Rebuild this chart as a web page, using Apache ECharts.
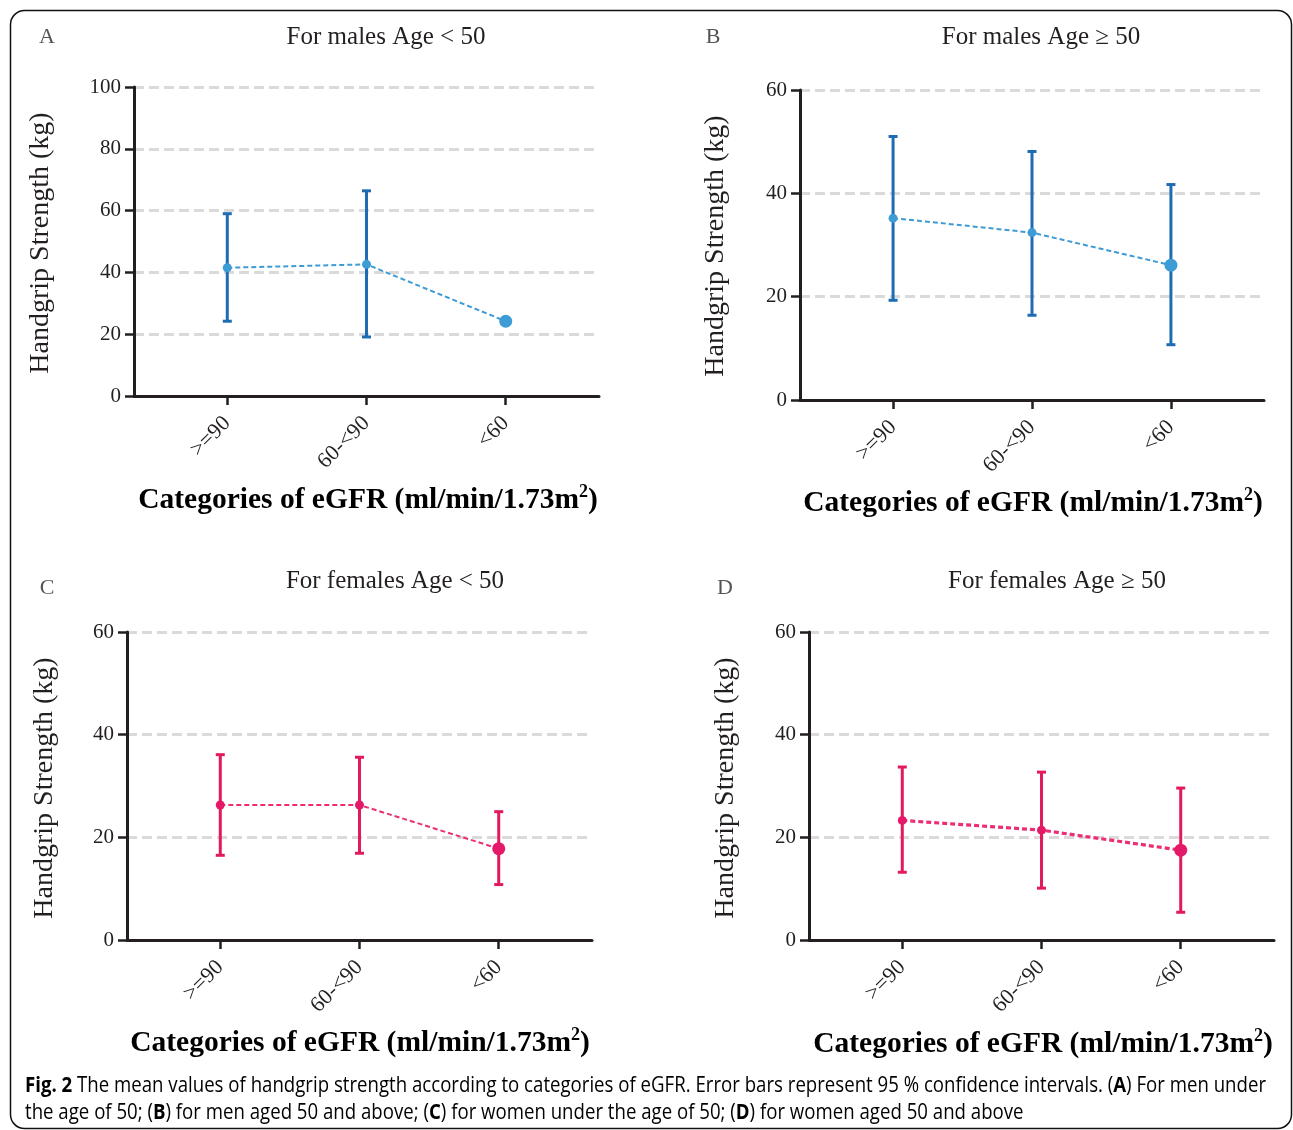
<!DOCTYPE html>
<html>
<head>
<meta charset="utf-8">
<script src="https://cdn.jsdelivr.net/npm/echarts@6/dist/echarts.min.js"></script>
<style>html,body{margin:0;padding:0;background:#fff}#c{width:1293px;height:1130px}</style>
</head>
<body>
<div id="c"></div>
<script>
// ---- data ----
const categories = ['>=90', '60-<90', '<60'];
const yTicksA = [0, 20, 40, 60, 80, 100];
const yTicksBCD = [0, 20, 40, 60];

const maleYoungMean = [41.5, 42.6, 24.2];
const maleYoungLow  = [24.2, 19.1, null];
const maleYoungHigh = [59.0, 66.4, null];

const maleOldMean = [35.2, 32.4, 26.1];
const maleOldLow  = [19.3, 16.4, 10.7];
const maleOldHigh = [51.0, 48.1, 41.7];

const femaleYoungMean = [26.3, 26.3, 17.8];
const femaleYoungLow  = [16.5, 16.9, 10.8];
const femaleYoungHigh = [36.1, 35.6, 25.0];

const femaleOldMean = [23.3, 21.4, 17.5];
const femaleOldLow  = [13.2, 10.1, 5.4];
const femaleOldHigh = [33.7, 32.7, 29.6];

const panelLetters = ['A', 'B', 'C', 'D'];
const panelTitles = ['For males Age < 50', 'For males Age \u2265 50', 'For females Age < 50', 'For females Age \u2265 50'];
const yAxisName = 'Handgrip Strength (kg)';
const xAxisNameMain = 'Categories of eGFR (ml/min/1.73m';
const xAxisNameSup = '2';
const xAxisNameEnd = ')';
const captionLine1 = [['b', 'Fig. 2'], ['n', ' The mean values of handgrip strength according to categories of eGFR. Error bars represent 95 % confidence intervals. ('], ['b', 'A'], ['n', ') For men under']];
const captionLine2 = [['n', 'the age of 50; ('], ['b', 'B'], ['n', ') for men aged 50 and above; ('], ['b', 'C'], ['n', ') for women under the age of 50; ('], ['b', 'D'], ['n', ') for women aged 50 and above']];

// ---- layout / style ----
const BLUE_BAR = '#1e6db4', BLUE_PT = '#3d9bd6';
const PINK_BAR = '#e3195e', PINK_PT = '#e4196a', PINK_LINE = '#ec2f74';
const AXIS = '#231f20';
const SERIF = '"Liberation Serif", "Times New Roman", serif';

const panels = [
  {grid: {left: 134, top: 87, width: 465, height: 309}, ticks: yTicksA, mean: maleYoungMean, low: maleYoungLow, high: maleYoungHigh,
   bar: BLUE_BAR, pt: BLUE_PT, line: BLUE_PT, lw: 2, letter: [47, 37], title: [386, 37], yname: [41, 243], xname: [368, 500]},
  {grid: {left: 800, top: 90, width: 464, height: 310}, ticks: yTicksBCD, mean: maleOldMean, low: maleOldLow, high: maleOldHigh,
   bar: BLUE_BAR, pt: BLUE_PT, line: BLUE_PT, lw: 2, letter: [713, 37], title: [1041, 37], yname: [716, 246], xname: [1033, 503]},
  {grid: {left: 127, top: 632, width: 465, height: 308}, ticks: yTicksBCD, mean: femaleYoungMean, low: femaleYoungLow, high: femaleYoungHigh,
   bar: PINK_BAR, pt: PINK_PT, line: PINK_LINE, lw: 2, letter: [47, 588], title: [395, 581], yname: [45, 788], xname: [360, 1043]},
  {grid: {left: 809, top: 632, width: 465, height: 308}, ticks: yTicksBCD, mean: femaleOldMean, low: femaleOldLow, high: femaleOldHigh,
   bar: PINK_BAR, pt: PINK_PT, line: PINK_LINE, lw: 3.2, letter: [725, 588], title: [1057, 581], yname: [726, 788], xname: [1043, 1044]}
];

const grids = [], xAxes = [], yAxes = [], series = [], graphics = [];
const catPos = categories.map((c, i) => i + 1);

const xNameRich = {
  m: {fontFamily: SERIF, fontSize: 29.5, fontWeight: 'bold', color: '#231f20', lineHeight: 34},
  s: {fontFamily: SERIF, fontSize: 18, fontWeight: 'bold', color: '#231f20', verticalAlign: 'top', lineHeight: 34}
};

panels.forEach((p, k) => {
  grids.push(Object.assign({outerBoundsMode: 'none', containLabel: false}, p.grid));
  xAxes.push({
    type: 'value', gridIndex: k, min: 0.33, max: 3.67,
    axisLine: {show: true, onZero: false, lineStyle: {color: AXIS, width: 3}},
    axisTick: {show: true, customValues: catPos, length: 9, lineStyle: {color: AXIS, width: 2.5}},
    axisLabel: {show: true, customValues: catPos, rotate: 45, margin: 24, color: '#231f20',
      fontFamily: SERIF, fontSize: 22, formatter: v => categories[Math.round(v) - 1] || ''},
    splitLine: {show: false}
  });
  const mx = p.ticks[p.ticks.length - 1];
  yAxes.push({
    type: 'value', gridIndex: k, min: 0, max: mx, interval: 20,
    axisLine: {show: true, lineStyle: {color: AXIS, width: 3}},
    axisTick: {show: true, length: 9, lineStyle: {color: AXIS, width: 2.5}},
    axisLabel: {color: '#231f20', fontFamily: SERIF, fontSize: 21, margin: 13},
    splitLine: {show: true, lineStyle: {color: '#dadada', width: 3, type: [10, 5]}}
  });
  const errData = [];
  p.mean.forEach((m, i) => { if (p.low[i] != null) errData.push([i + 1, p.low[i], p.high[i]]); });
  series.push({
    type: 'custom', xAxisIndex: k, yAxisIndex: k, z: 2, silent: true,
    data: errData, encode: {x: 0, y: [1, 2]},
    renderItem: (params, api) => {
      const x = api.value(0);
      const top = api.coord([x, api.value(2)]);
      const bot = api.coord([x, api.value(1)]);
      const w = 4.5;
      const st = {stroke: p.bar, lineWidth: 3};
      return {type: 'group', children: [
        {type: 'line', shape: {x1: top[0], y1: top[1], x2: bot[0], y2: bot[1]}, style: st},
        {type: 'line', shape: {x1: top[0] - w, y1: top[1], x2: top[0] + w, y2: top[1]}, style: st},
        {type: 'line', shape: {x1: bot[0] - w, y1: bot[1], x2: bot[0] + w, y2: bot[1]}, style: st}
      ]};
    }
  });
  series.push({
    type: 'line', xAxisIndex: k, yAxisIndex: k, z: 5, silent: true,
    data: p.mean.map((m, i) => [i + 1, m]),
    symbol: 'circle', symbolSize: (v, params) => params.dataIndex === 2 ? 13 : 9,
    itemStyle: {color: p.pt, borderWidth: 0},
    lineStyle: {color: p.line, width: p.lw, type: [5, 3]}
  });
  graphics.push({type: 'text', x: p.letter[0], y: p.letter[1], style: {text: panelLetters[k], font: '22px ' + SERIF, fill: '#555', textAlign: 'center', textVerticalAlign: 'middle'}});
  graphics.push({type: 'text', x: p.title[0], y: p.title[1], style: {text: panelTitles[k], font: '25px ' + SERIF, fill: '#231f20', textAlign: 'center', textVerticalAlign: 'middle'}});
  graphics.push({type: 'text', x: p.yname[0], y: p.yname[1], rotation: Math.PI / 2, style: {text: yAxisName, font: '28px ' + SERIF, fill: '#231f20', textAlign: 'center', textVerticalAlign: 'middle'}});
  graphics.push({type: 'text', x: p.xname[0], y: p.xname[1], style: {
    text: '{m|' + xAxisNameMain + '}{s|' + xAxisNameSup + '}{m|' + xAxisNameEnd + '}', rich: xNameRich,
    textAlign: 'center', textVerticalAlign: 'middle'}});
});

// caption
const CAP_FONT = '"Open Sans", "Noto Sans", sans-serif';
const CAP_SIZE = 21;
const ctx = document.createElement('canvas').getContext('2d');
function runWidth(runs) {
  let w = 0;
  runs.forEach(r => { ctx.font = (r[0] === 'b' ? 'bold ' : '') + CAP_SIZE + 'px ' + CAP_FONT; w += ctx.measureText(r[1]).width; });
  return w;
}
const capScale = 1241 / runWidth(captionLine1);
function richText(runs) { return runs.map(r => '{' + r[0] + '|' + r[1] + '}').join(''); }
const capRich = {
  n: {fontFamily: CAP_FONT, fontSize: CAP_SIZE, color: '#333'},
  b: {fontFamily: CAP_FONT, fontSize: CAP_SIZE, fontWeight: 'bold', color: '#1a1a1a'}
};
graphics.push({type: 'text', x: 25, y: 1086, scaleX: capScale, style: {text: richText(captionLine1), rich: capRich, textVerticalAlign: 'middle', textAlign: 'left'}});
graphics.push({type: 'text', x: 25, y: 1113, scaleX: capScale, style: {text: richText(captionLine2), rich: capRich, textVerticalAlign: 'middle', textAlign: 'left'}});
// border
graphics.push({type: 'rect', shape: {x: 10.5, y: 10.5, width: 1281, height: 1118, r: 14}, style: {fill: 'none', stroke: '#111', lineWidth: 1.5}, z: -1});

const chart = echarts.init(document.getElementById('c'));
chart.setOption({
  animation: false,
  backgroundColor: '#fff',
  grid: grids, xAxis: xAxes, yAxis: yAxes, series: series, graphic: graphics
});
</script>
</body>
</html>
